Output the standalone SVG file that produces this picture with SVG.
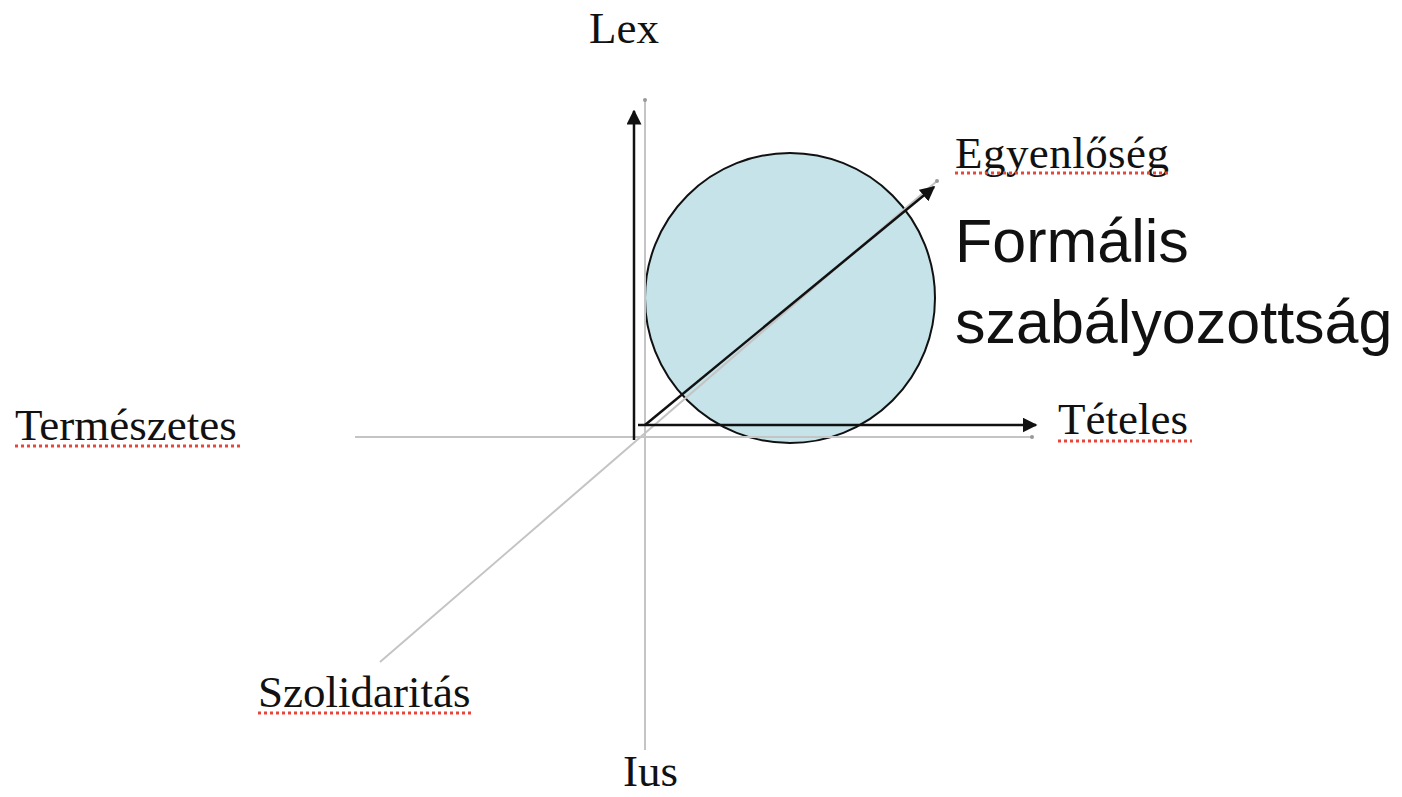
<svg xmlns="http://www.w3.org/2000/svg" width="1402" height="797" viewBox="0 0 1402 797">
<style>
.lbl{font-family:"Liberation Serif","Times New Roman",serif;font-size:45px;fill:#111}
.big{font-family:"Liberation Sans",Arial,sans-serif;font-size:61px;fill:#111}
.gray{stroke:#c4c4c4;stroke-width:2;fill:none}
.ax{stroke:#111;stroke-width:2.5;fill:none}
.sq{stroke:#e8463a;stroke-width:3;stroke-dasharray:3 3;fill:none}
</style>
<defs>
<marker id="ah" viewBox="0 0 10 10" refX="9" refY="5" markerWidth="6" markerHeight="6" markerUnits="strokeWidth" orient="auto">
<path d="M0,0 L10,5 L0,10 z" fill="#111"/>
</marker>
</defs>
<rect width="1402" height="797" fill="#fff"/>
<g id="circle">
<circle cx="790" cy="298" r="145" fill="#c5e3e8" stroke="#111" stroke-width="2"/>
</g>
<g id="connectors">
<line class="gray" x1="645" y1="100" x2="645" y2="750"/>
<line class="gray" x1="355" y1="437" x2="1032" y2="437"/>
<line class="gray" x1="380" y1="662" x2="937" y2="181"/>
<circle cx="645" cy="100" r="2" fill="#999"/>
<circle cx="1032" cy="437" r="2" fill="#999"/>
<circle cx="937" cy="181" r="2" fill="#999"/>
<line class="ax" x1="634" y1="440" x2="634" y2="111" marker-end="url(#ah)"/>
<line class="ax" x1="638" y1="425" x2="1036" y2="425" marker-end="url(#ah)"/>
<line class="ax" x1="645" y1="425" x2="934" y2="187" marker-end="url(#ah)"/>
</g>
<g id="lex"><text class="lbl" x="589" y="43">Lex</text></g>
<g id="ius"><text class="lbl" x="623" y="786">Ius</text></g>
<g id="egyenloseg"><text class="lbl" x="955" y="168" textLength="214">Egyenlőség</text><line class="sq" x1="955" y1="173" x2="1170" y2="173"/></g>
<g id="formalis"><text class="big" x="955" y="262">Formális</text><text class="big" x="955" y="343">szabályozottság</text></g>
<g id="teteles"><text class="lbl" x="1058" y="434">Tételes</text><line class="sq" x1="1058" y1="441" x2="1192" y2="441"/></g>
<g id="termeszetes"><text class="lbl" x="15" y="440">Természetes</text><line class="sq" x1="15" y1="446" x2="241" y2="446"/></g>
<g id="szolidaritas"><text class="lbl" x="258" y="707">Szolidaritás</text><line class="sq" x1="258" y1="713" x2="474" y2="713"/></g>
</svg>
